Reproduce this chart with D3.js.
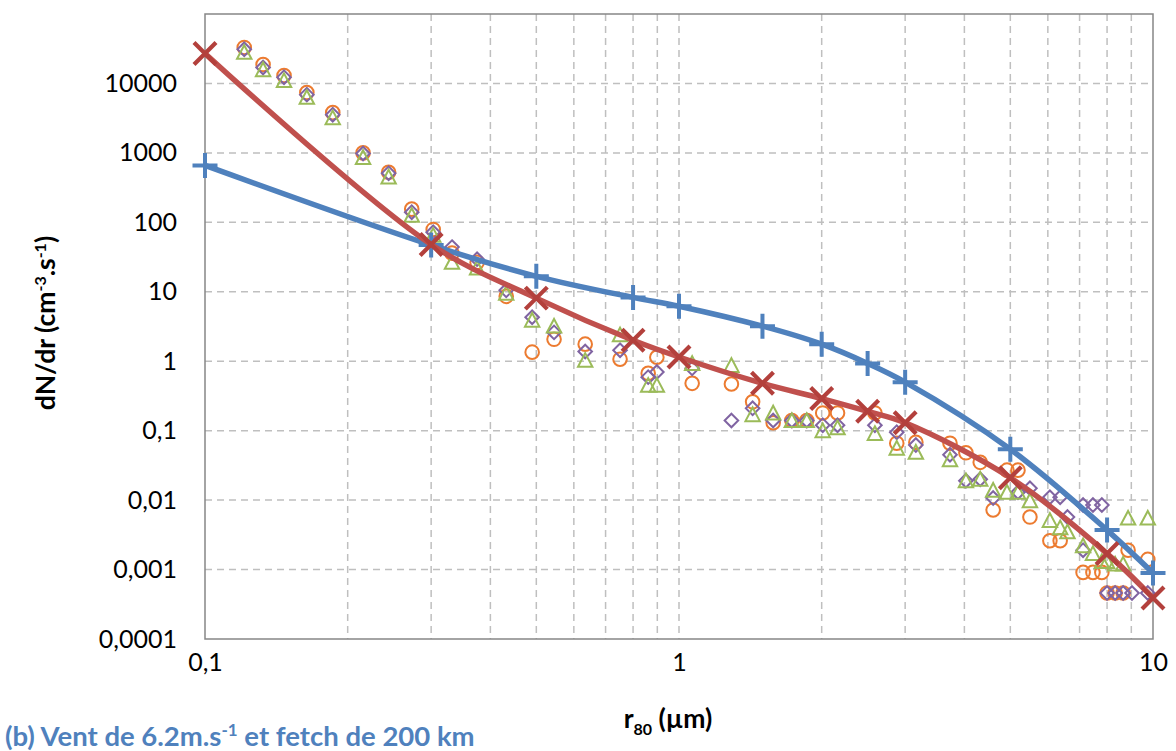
<!DOCTYPE html>
<html>
<head>
<meta charset="utf-8">
<script src="https://cdn.jsdelivr.net/npm/d3@7"></script>
<style>
  html, body { margin: 0; padding: 0; background: #fff; }
  svg { display: block; }
  text { font-family: Lato, "Open Sans", sans-serif; }
</style>
</head>
<body>
<svg id="chart" width="1176" height="751"></svg>
<script>
// ---------- DATA ----------
const yTickValues = [0.0001, 0.001, 0.01, 0.1, 1, 10, 100, 1000, 10000];
const yTickLabels = ["0,0001", "0,001", "0,01", "0,1", "1", "10", "100", "1000", "10000"];
const xTickValues = [0.1, 1, 10];
const xTickLabels = ["0,1", "1", "10"];
const xGridValues = [0.2,0.3,0.4,0.5,0.6,0.7,0.8,0.9,1,2,3,4,5,6,7,8,9];

// Blue model curve (+ markers)
const blueX = [0.1, 0.3, 0.5, 0.8, 1.0, 1.5, 2.0, 2.5, 3.0, 5.0, 8.0, 10.0];
const blueY = [660, 47, 16.7, 8.3, 6.2, 3.2, 1.76, 0.93, 0.50, 0.054, 0.0037, 0.00089];

// Red model curve (x markers)
const redX = [0.1, 0.3, 0.5, 0.8, 1.0, 1.5, 2.0, 2.5, 3.0, 5.0, 8.0, 10.0];
const redY = [27000, 48, 8.1, 2.0, 1.15, 0.48, 0.29, 0.19, 0.13, 0.021, 0.0017, 0.00039];

// Measurements: orange circles
const orangeX = [0.121,0.1326,0.1468,0.164,0.186,0.2155,0.244,0.273,0.303,0.332,0.375,0.432,0.49,0.545,0.634,0.751,0.861,0.898,1.066,1.29,1.43,1.58,1.73,1.86,2.01,2.16,2.59,2.88,3.16,3.73,4.03,4.32,4.6,4.92,5.19,5.5,6.06,6.37,7.12,7.47,7.8,8.0,8.32,8.65,8.86,9.75];
const orangeY = [33000,18700,13000,7400,3800,1000,525,155,79,36,26.5,8.6,1.35,2.07,1.76,1.07,0.67,1.14,0.48,0.47,0.26,0.13,0.14,0.14,0.18,0.18,0.18,0.066,0.068,0.066,0.048,0.035,0.0072,0.027,0.027,0.0057,0.0026,0.0026,0.00091,0.00091,0.00091,0.00046,0.00046,0.00046,0.0019,0.0014];

// Measurements: purple diamonds
const purpleX = [0.121,0.1326,0.1468,0.164,0.186,0.2155,0.244,0.273,0.303,0.332,0.375,0.432,0.49,0.545,0.634,0.751,0.861,0.898,1.066,1.29,1.43,1.58,1.73,1.86,2.01,2.16,2.59,2.88,3.16,3.73,4.03,4.32,4.6,5.19,5.5,6.06,6.37,6.6,7.12,7.12,7.47,7.8,8.0,8.32,8.65,9.03,9.75];
const purpleY = [31000,17000,12300,6900,3550,980,510,140,72,44,29.5,10.5,4.3,2.6,1.38,1.44,0.59,0.70,0.79,0.14,0.21,0.14,0.14,0.14,0.12,0.12,0.12,0.095,0.062,0.045,0.019,0.02,0.0107,0.013,0.0148,0.011,0.011,0.0057,0.0085,0.0019,0.0085,0.0085,0.00046,0.00046,0.00046,0.00046,0.00046];

// Measurements: green triangles
const greenX = [0.121,0.1326,0.1468,0.164,0.186,0.2155,0.244,0.273,0.303,0.332,0.375,0.432,0.49,0.545,0.634,0.751,0.861,0.898,1.066,1.29,1.43,1.58,1.73,1.86,2.01,2.16,2.59,2.88,3.16,3.73,4.03,4.32,4.6,4.92,5.19,5.5,6.06,6.37,6.6,7.12,7.47,7.8,8.0,8.32,8.65,8.86,9.75];
const greenY = [28000,15800,11000,6300,3200,860,450,126,65,26.5,22,9.5,3.9,3.2,1.03,2.4,0.45,0.45,0.93,0.87,0.17,0.18,0.14,0.14,0.10,0.11,0.091,0.056,0.049,0.038,0.019,0.02,0.0139,0.013,0.013,0.0098,0.0051,0.004,0.0035,0.0022,0.0017,0.0013,0.0013,0.0012,0.0012,0.0055,0.0055];

// ---------- CHART ----------
const svg = d3.select("#chart");
const L = 205, R = 1153, T = 14, B = 639;
const x = d3.scaleLog().domain([0.1, 10]).range([L, R]);
const y = d3.scaleLog().domain([1e-4, 1e5]).range([B, T]);

const gridColor = "#bfbfbf";
const axisColor = "#868686";
const cBlue = "#4f81bd", cRed = "#c0504d", cOrange = "#ec7b30", cPurple = "#8064a2", cGreen = "#9bbb59";

// grid
svg.append("g").selectAll("line").data(xGridValues).join("line")
  .attr("x1", d => x(d)).attr("x2", d => x(d)).attr("y1", T).attr("y2", B)
  .attr("stroke", gridColor).attr("stroke-width", 1.5).attr("stroke-dasharray", "7,5");
svg.append("g").selectAll("line").data(yTickValues.slice(1)).join("line")
  .attr("x1", L).attr("x2", R).attr("y1", d => y(d)).attr("y2", d => y(d))
  .attr("stroke", gridColor).attr("stroke-width", 1.5).attr("stroke-dasharray", "7,5");

// frame
svg.append("rect").attr("x", L).attr("y", T).attr("width", R - L).attr("height", B - T)
  .attr("fill", "none").attr("stroke", axisColor).attr("stroke-width", 1.5);

// axes labels via d3 axes
const yAxis = d3.axisLeft(y).tickValues(yTickValues)
  .tickFormat((d, i) => yTickLabels[i]).tickSize(0).tickPadding(28);
const gy = svg.append("g").attr("transform", `translate(${L},0)`).call(yAxis);
gy.select(".domain").remove();
gy.selectAll("text").attr("font-size", 25).attr("fill", "#000").attr("font-family", "Lato, sans-serif");

const xAxis = d3.axisBottom(x).tickValues(xTickValues)
  .tickFormat((d, i) => xTickLabels[i]).tickSize(0).tickPadding(9);
const gx = svg.append("g").attr("transform", `translate(0,${B})`).call(xAxis);
gx.select(".domain").remove();
gx.selectAll("text").attr("font-size", 25).attr("fill", "#000").attr("font-family", "Lato, sans-serif").attr("dy", "0.9em");

// scatter markers
const zip = (xs, ys) => xs.map((v, i) => [v, ys[i]]);
const sc = svg.append("g");
sc.selectAll("circle.o").data(zip(orangeX, orangeY)).join("circle").attr("class", "o")
  .attr("cx", d => x(d[0])).attr("cy", d => y(d[1])).attr("r", 6.8)
  .attr("fill", "none").attr("stroke", cOrange).attr("stroke-width", 2);
sc.selectAll("path.p").data(zip(purpleX, purpleY)).join("path").attr("class", "p")
  .attr("d", d => { const cx = x(d[0]), cy = y(d[1]), s = 6.8; return `M${cx},${cy-s}L${cx+s},${cy}L${cx},${cy+s}L${cx-s},${cy}Z`; })
  .attr("fill", "none").attr("stroke", cPurple).attr("stroke-width", 2);
sc.selectAll("path.g").data(zip(greenX, greenY)).join("path").attr("class", "g")
  .attr("d", d => { const cx = x(d[0]), cy = y(d[1]), s = 7.2; return `M${cx},${cy-s}L${cx+s},${cy+s*0.9}L${cx-s},${cy+s*0.9}Z`; })
  .attr("fill", "none").attr("stroke", cGreen).attr("stroke-width", 2);

// model lines
const line = d3.line().x(d => x(d[0])).y(d => y(d[1])).curve(d3.curveCatmullRom.alpha(0.5));
svg.append("path").datum(zip(blueX, blueY)).attr("d", line)
  .attr("fill", "none").attr("stroke", cBlue).attr("stroke-width", 5.5).attr("stroke-linejoin", "round");
svg.append("g").selectAll("path").data(zip(blueX, blueY)).join("path")
  .attr("d", d => { const cx = x(d[0]), cy = y(d[1]), s = 12.5; return `M${cx-s},${cy}H${cx+s}M${cx},${cy-s}V${cy+s}`; })
  .attr("stroke", cBlue).attr("stroke-width", 4).attr("fill", "none");

svg.append("path").datum(zip(redX, redY)).attr("d", line)
  .attr("fill", "none").attr("stroke", cRed).attr("stroke-width", 5.5).attr("stroke-linejoin", "round");
svg.append("g").selectAll("path").data(zip(redX, redY)).join("path")
  .attr("d", d => { const cx = x(d[0]), cy = y(d[1]), s = 11; return `M${cx-s},${cy-s}L${cx+s},${cy+s}M${cx-s},${cy+s}L${cx+s},${cy-s}`; })
  .attr("stroke", "#b3403c").attr("stroke-width", 4.2).attr("fill", "none");

// axis titles
const yt = svg.append("text").attr("transform", "translate(55,323) rotate(-90)")
  .attr("text-anchor", "middle").attr("font-size", 26.5).attr("font-weight", "bold").attr("fill", "#000");
yt.append("tspan").text("dN/dr (cm");
yt.append("tspan").attr("dy", -9).attr("font-size", 16).text("-3");
yt.append("tspan").attr("dy", 9).text(".s");
yt.append("tspan").attr("dy", -9).attr("font-size", 16).text("-1");
yt.append("tspan").attr("dy", 9).text(")");

const xt = svg.append("text").attr("x", 668).attr("y", 728)
  .attr("text-anchor", "middle").attr("font-size", 26.5).attr("font-weight", "bold").attr("fill", "#000");
xt.append("tspan").text("r");
xt.append("tspan").attr("dy", 7).attr("font-size", 16).text("80");
xt.append("tspan").attr("dy", -7).text(" (µm)");

const cap = svg.append("text").attr("x", 5).attr("y", 746)
  .attr("font-size", 27.5).attr("font-weight", "bold").attr("fill", "#4f81bd");
cap.append("tspan").text("(b) Vent de 6.2m.s");
cap.append("tspan").attr("dy", -10).attr("font-size", 17).text("-1");
cap.append("tspan").attr("dy", 10).text(" et fetch de 200 km");
</script>
</body>
</html>
